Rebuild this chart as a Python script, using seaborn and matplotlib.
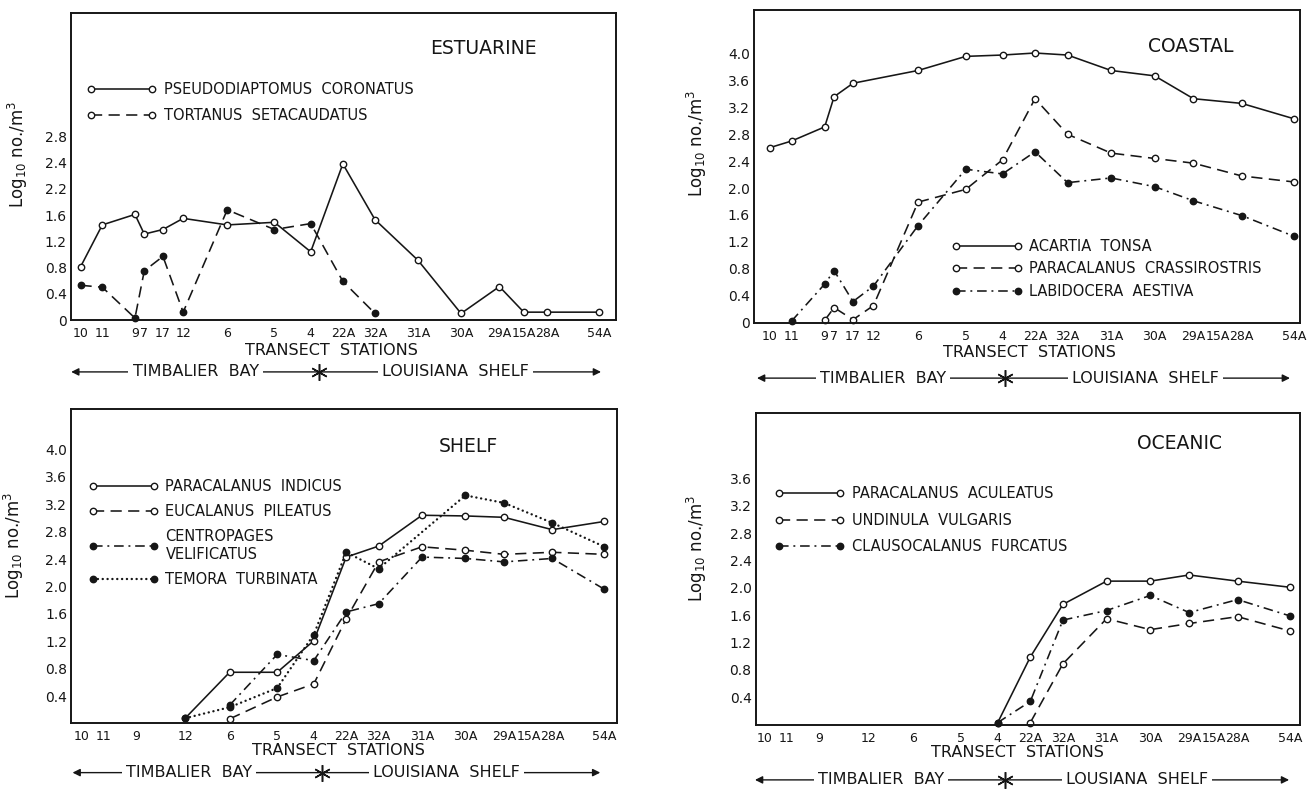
import numpy as np
import pandas as pd
import matplotlib
matplotlib.use("Agg")
import matplotlib.pyplot as plt
import matplotlib.transforms as mtransforms
from matplotlib.lines import Line2D
import seaborn as sns

nan = np.nan

# ---------------- data ----------------
stations = ["10", "11", "9", "7", "17", "12", "6", "5", "4", "22A", "32A",
            "31A", "30A", "29A", "15A", "28A", "54A"]
# relative distance along the transect (10 -> 0, 54A -> 100)
station_pos = [0, 4.2, 10.5, 12.3, 15.9, 19.8, 28.3, 37.4, 44.4, 50.6, 56.8,
               65.1, 73.4, 80.8, 85.5, 90.0, 100]

# ESTUARINE
pseudodiaptomus_coronatus = [0.81, 1.45, 1.61, 1.31, 1.38, 1.55, 1.45, 1.49, 1.04, 2.38, 1.53,
                             0.91, 0.10, 0.51, 0.12, 0.12, 0.12]
tortanus_setacaudatus = [0.53, 0.50, 0.03, 0.75, 0.97, 0.12, 1.68, 1.38, 1.47, 0.59, 0.10,
                         nan, nan, nan, nan, nan, nan]
# COASTAL
acartia_tonsa = [2.60, 2.70, 2.91, 3.36, 3.56, nan, 3.75, 3.96, 3.98, 4.01, 3.98,
                 3.75, 3.67, 3.33, nan, 3.26, 3.03]
paracalanus_crassirostris = [nan, nan, 0.03, 0.22, 0.04, 0.25, 1.79, 1.98, 2.42, 3.33, 2.80,
                             2.52, 2.44, 2.37, nan, 2.18, 2.09]
labidocera_aestiva = [nan, 0.02, 0.57, 0.77, 0.31, 0.54, 1.44, 2.28, 2.21, 2.54, 2.08,
                      2.15, 2.02, 1.81, nan, 1.59, 1.28]
# SHELF
paracalanus_indicus = [nan, nan, nan, nan, nan, 0.08, 0.75, 0.75, 1.21, 2.43, 2.59,
                       3.04, 3.03, 3.01, nan, 2.83, 2.95]
eucalanus_pileatus = [nan, nan, nan, nan, nan, nan, 0.07, 0.39, 0.58, 1.53, 2.36,
                      2.58, 2.53, 2.47, nan, 2.50, 2.47]
centropages_velificatus = [nan, nan, nan, nan, nan, nan, 0.27, 1.01, 0.92, 1.63, 1.75,
                           2.43, 2.41, 2.36, nan, 2.41, 1.96]
temora_turbinata = [nan, nan, nan, nan, nan, 0.08, 0.24, 0.52, 1.30, 2.50, 2.26,
                    nan, 3.33, 3.22, nan, 2.93, 2.58]
# OCEANIC
paracalanus_aculeatus = [nan, nan, nan, nan, nan, nan, nan, nan, 0.03, 0.99, 1.76,
                         2.10, 2.10, 2.19, nan, 2.10, 2.01]
undinula_vulgaris = [nan, nan, nan, nan, nan, nan, nan, nan, nan, 0.03, 0.89,
                     1.55, 1.39, 1.48, nan, 1.58, 1.37]
clausocalanus_furcatus = [nan, nan, nan, nan, nan, nan, nan, nan, 0.03, 0.34, 1.53,
                          1.67, 1.89, 1.64, nan, 1.83, 1.59]

estuarine_yticks = [0, 0.4, 0.8, 1.2, 1.6, 2.0, 2.4, 2.8]
estuarine_yticklabels = ["0", "0.4", "0.8", "1.2", "1.6", "2.2", "2.4", "2.8"]
coastal_yticks = [0, 0.4, 0.8, 1.2, 1.6, 2.0, 2.4, 2.8, 3.2, 3.6, 4.0]
coastal_yticklabels = ["0", "0.4", "0.8", "1.2", "1.6", "2.0", "2.4", "2.8", "3.2", "3.6", "4.0"]
shelf_yticks = [0.4, 0.8, 1.2, 1.6, 2.0, 2.4, 2.8, 3.2, 3.6, 4.0]
shelf_yticklabels = ["0.4", "0.8", "1.2", "1.6", "2.0", "2.4", "2.8", "3.2", "3.6", "4.0"]
oceanic_yticks = [0.4, 0.8, 1.2, 1.6, 2.0, 2.4, 2.8, 3.2, 3.6]
oceanic_yticklabels = ["0.4", "0.8", "1.2", "1.6", "2.0", "2.4", "2.8", "3.2", "3.6"]
short_stations = ["10", "11", "9", "12", "6", "5", "4", "22A", "32A", "31A", "30A",
                  "29A", "15A", "28A", "54A"]

# ---------------- style ----------------
INK = "#161616"
sns.set_theme(style="white")
plt.rcParams["font.family"] = ["DejaVu Sans"]
plt.rcParams["mathtext.fontset"] = "dejavusans"

LS = {
    "solid": "-",
    "dashed": (0, (7, 4)),
    "dashdot": (0, (6, 3, 1.2, 3)),
    "dotted": (0, (0.05, 2.0)),
}
LW = 1.15
MS = 4.6

fig = plt.figure(figsize=(13.08, 7.9), dpi=100)
fig.patch.set_facecolor("white")


def line_width(kind):
    return 1.7 if kind == "dotted" else LW


def draw_series(ax, values, kind, filled):
    df = pd.DataFrame({"x": station_pos, "y": values}).dropna()
    sns.lineplot(data=df, x="x", y="y", ax=ax, estimator=None, sort=False,
                 color=INK, linestyle=LS[kind], linewidth=line_width(kind),
                 dash_capstyle="round" if kind == "dotted" else "butt",
                 marker="o", markersize=MS,
                 markerfacecolor=INK if filled else "white",
                 markeredgecolor=INK, markeredgewidth=1.0,
                 clip_on=False, legend=False)


def legend_handle(kind, filled):
    return Line2D([0], [0], color=INK, linestyle=LS[kind], linewidth=line_width(kind),
                  dash_capstyle="round" if kind == "dotted" else "butt",
                  marker="o", markersize=MS,
                  markerfacecolor=INK if filled else "white",
                  markeredgecolor=INK, markeredgewidth=1.0)


panels = [
    dict(rect=[0.0543, 0.5949, 0.4163, 0.3886], xlim=(-1.83, 103.2), ylim=(0, 4.68),
         title="ESTUARINE", title_xy=(0.757, 0.883),
         yticks=estuarine_yticks, yticklabels=estuarine_yticklabels,
         xticklabels=stations, ylabel_xy=(-0.075, 0.54),
         series=[(pseudodiaptomus_coronatus, "solid", False, False, "PSEUDODIAPTOMUS  CORONATUS"),
                 (tortanus_setacaudatus, "dashed", True, False, "TORTANUS  SETACAUDATUS")],
         leg_anchor=(0.029, 0.775), leg_spacing=0.72,
         ts=(48.4, -0.098), bar=(-0.169, -1.8, 100.4, 22.2, 46.0, 72.4), shelf="LOUISIANA  SHELF"),
    dict(rect=[0.5765, 0.5911, 0.4171, 0.3962], xlim=(-2.96, 101.04), ylim=(-0.01, 4.65),
         title="COASTAL", title_xy=(0.801, 0.882),
         yticks=coastal_yticks, yticklabels=coastal_yticklabels,
         xticklabels=stations, ylabel_xy=(-0.082, 0.575),
         series=[(acartia_tonsa, "solid", False, False, "ACARTIA  TONSA"),
                 (paracalanus_crassirostris, "dashed", False, False, "PARACALANUS  CRASSIROSTRIS"),
                 (labidocera_aestiva, "dashdot", True, True, "LABIDOCERA  AESTIVA")],
         leg_anchor=(0.363, 0.268), leg_spacing=0.5,
         ts=(49.6, -0.093), bar=(-0.176, -2.4, 99.2, 21.6, 44.8, 71.6), shelf="LOUISIANA  SHELF"),
    dict(rect=[0.0545, 0.0848, 0.4172, 0.3975], xlim=(-1.99, 102.4), ylim=(0.01, 4.59),
         title="SHELF", title_xy=(0.728, 0.880),
         yticks=shelf_yticks, yticklabels=shelf_yticklabels,
         xticklabels=short_stations, ylabel_xy=(-0.083, 0.564),
         series=[(paracalanus_indicus, "solid", False, False, "PARACALANUS  INDICUS"),
                 (eucalanus_pileatus, "dashed", False, False, "EUCALANUS  PILEATUS"),
                 (centropages_velificatus, "dashdot", True, True, "CENTROPAGES\nVELIFICATUS"),
                 (temora_turbinata, "dotted", True, True, "TEMORA  TURBINATA")],
         leg_anchor=(0.031, 0.778), leg_spacing=0.7,
         ts=(49.1, -0.086), bar=(-0.158, -1.75, 99.2, 20.5, 45.9, 69.8), shelf="LOUISIANA  SHELF"),
    dict(rect=[0.5778, 0.0823, 0.4158, 0.3949], xlim=(-1.6, 101.8), ylim=(-0.005, 4.56),
         title="OCEANIC", title_xy=(0.779, 0.903),
         yticks=oceanic_yticks, yticklabels=oceanic_yticklabels,
         xticklabels=short_stations, ylabel_xy=(-0.086, 0.567),
         series=[(paracalanus_aculeatus, "solid", False, False, "PARACALANUS  ACULEATUS"),
                 (undinula_vulgaris, "dashed", False, False, "UNDINULA  VULGARIS"),
                 (clausocalanus_furcatus, "dashdot", True, True, "CLAUSOCALANUS  FURCATUS")],
         leg_anchor=(0.034, 0.766), leg_spacing=0.8,
         ts=(48.1, -0.089), bar=(-0.176, -1.75, 99.8, 22.2, 45.7, 70.9), shelf="LOUSIANA  SHELF"),
]

for p in panels:
    ax = fig.add_axes(p["rect"])
    ax.set_facecolor("white")
    handles, labels = [], []
    for values, kind, filled, leg_filled, label in p["series"]:
        draw_series(ax, values, kind, filled)
        handles.append(legend_handle(kind, leg_filled))
        labels.append(label)

    ax.set_xlim(*p["xlim"])
    ax.set_ylim(*p["ylim"])
    pos_map = dict(zip(stations, station_pos))
    ax.set_xticks([pos_map[s] for s in p["xticklabels"]])
    ax.set_xticklabels(p["xticklabels"], fontsize=9, color=INK)
    ax.set_yticks(p["yticks"])
    ax.set_yticklabels(p["yticklabels"], fontsize=10, color=INK)
    ax.tick_params(axis="both", length=0)
    ax.tick_params(axis="x", pad=5)
    ax.tick_params(axis="y", pad=3)
    for sp in ax.spines.values():
        sp.set_visible(True)
        sp.set_color(INK)
        sp.set_linewidth(1.4)
    ax.grid(False)
    ax.set_xlabel("")
    ax.set_ylabel(r"Log$_{10}$ no./m$^{3}$", fontsize=12, color=INK)
    ax.yaxis.set_label_coords(*p["ylabel_xy"])

    ax.text(*p["title_xy"], p["title"], transform=ax.transAxes, ha="center",
            va="center", fontsize=13.5, color=INK)

    ax.legend(handles, labels, loc="upper left", bbox_to_anchor=p["leg_anchor"],
              frameon=False, numpoints=2, handlelength=4.8, handletextpad=0.5,
              labelspacing=p["leg_spacing"], borderpad=0, borderaxespad=0,
              fontsize=10.5, labelcolor=INK)

    trans = mtransforms.blended_transform_factory(ax.transData, ax.transAxes)
    ax.text(p["ts"][0], p["ts"][1], "TRANSECT  STATIONS", transform=trans,
            ha="center", va="center", fontsize=11.5, color=INK)

    by, xl, xr, tbx, sx, lsx = p["bar"]
    ax.annotate("", xy=(xl, by), xytext=(xr, by), xycoords=trans, textcoords=trans,
                arrowprops=dict(arrowstyle="<|-|>", color=INK, lw=1.0,
                                mutation_scale=11, shrinkA=0, shrinkB=0),
                annotation_clip=False)
    ax.text(tbx, by, "TIMBALIER  BAY", transform=trans, ha="center", va="center",
            fontsize=11.5, color=INK,
            bbox=dict(facecolor="white", edgecolor="none", pad=3))
    ax.text(lsx, by, p["shelf"], transform=trans, ha="center", va="center",
            fontsize=11.5, color=INK,
            bbox=dict(facecolor="white", edgecolor="none", pad=3))
    ax.plot([sx], [by], transform=trans, marker=(6, 2, 0), markersize=12,
            color=INK, markeredgewidth=1.1, clip_on=False, linestyle="none")

fig.savefig("out.png", dpi=100, facecolor="white")
